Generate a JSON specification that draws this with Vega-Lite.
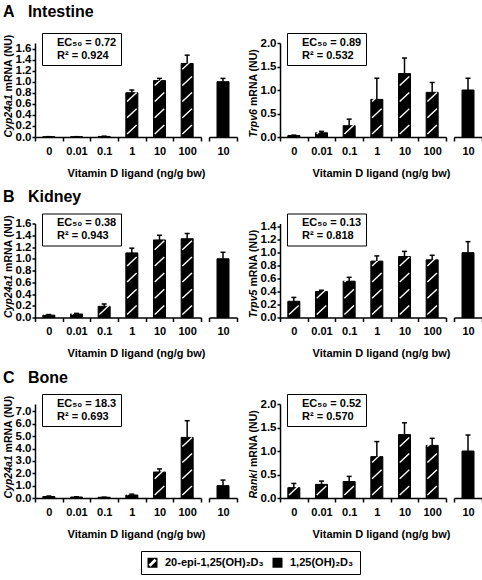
{
  "$schema": "https://vega.github.io/schema/vega-lite/v6.json",
  "background": "white",
  "padding": {"left": 2, "top": 3, "right": 0, "bottom": 0},
  "autosize": {"type": "pad"},
  "datasets": {
    "bars": [
      {"tissue": "Intestine", "gene": "Cyp24a1", "treat": "20-epi-1,25(OH)₂D₃", "dose": "0", "mean": 0.004, "hi": 0.006},
      {"tissue": "Intestine", "gene": "Cyp24a1", "treat": "20-epi-1,25(OH)₂D₃", "dose": "0.01", "mean": 0.004, "hi": 0.006},
      {"tissue": "Intestine", "gene": "Cyp24a1", "treat": "20-epi-1,25(OH)₂D₃", "dose": "0.1", "mean": 0.01, "hi": 0.015},
      {"tissue": "Intestine", "gene": "Cyp24a1", "treat": "20-epi-1,25(OH)₂D₃", "dose": "1", "mean": 0.8, "hi": 0.85},
      {"tissue": "Intestine", "gene": "Cyp24a1", "treat": "20-epi-1,25(OH)₂D₃", "dose": "10", "mean": 1.02, "hi": 1.06},
      {"tissue": "Intestine", "gene": "Cyp24a1", "treat": "20-epi-1,25(OH)₂D₃", "dose": "100", "mean": 1.33, "hi": 1.48},
      {"tissue": "Intestine", "gene": "Cyp24a1", "treat": "1,25(OH)₂D₃", "dose": "10", "mean": 1.0, "hi": 1.06},
      {"tissue": "Intestine", "gene": "Trpv6", "treat": "20-epi-1,25(OH)₂D₃", "dose": "0", "mean": 0.03, "hi": 0.04},
      {"tissue": "Intestine", "gene": "Trpv6", "treat": "20-epi-1,25(OH)₂D₃", "dose": "0.01", "mean": 0.09, "hi": 0.12},
      {"tissue": "Intestine", "gene": "Trpv6", "treat": "20-epi-1,25(OH)₂D₃", "dose": "0.1", "mean": 0.24, "hi": 0.38},
      {"tissue": "Intestine", "gene": "Trpv6", "treat": "20-epi-1,25(OH)₂D₃", "dose": "1", "mean": 0.8, "hi": 1.25},
      {"tissue": "Intestine", "gene": "Trpv6", "treat": "20-epi-1,25(OH)₂D₃", "dose": "10", "mean": 1.35, "hi": 1.68},
      {"tissue": "Intestine", "gene": "Trpv6", "treat": "20-epi-1,25(OH)₂D₃", "dose": "100", "mean": 0.95, "hi": 1.16},
      {"tissue": "Intestine", "gene": "Trpv6", "treat": "1,25(OH)₂D₃", "dose": "10", "mean": 1.0, "hi": 1.25},
      {"tissue": "Kidney", "gene": "Cyp24a1", "treat": "20-epi-1,25(OH)₂D₃", "dose": "0", "mean": 0.04, "hi": 0.05},
      {"tissue": "Kidney", "gene": "Cyp24a1", "treat": "20-epi-1,25(OH)₂D₃", "dose": "0.01", "mean": 0.06, "hi": 0.07},
      {"tissue": "Kidney", "gene": "Cyp24a1", "treat": "20-epi-1,25(OH)₂D₃", "dose": "0.1", "mean": 0.19, "hi": 0.23},
      {"tissue": "Kidney", "gene": "Cyp24a1", "treat": "20-epi-1,25(OH)₂D₃", "dose": "1", "mean": 1.1, "hi": 1.18},
      {"tissue": "Kidney", "gene": "Cyp24a1", "treat": "20-epi-1,25(OH)₂D₃", "dose": "10", "mean": 1.32, "hi": 1.4},
      {"tissue": "Kidney", "gene": "Cyp24a1", "treat": "20-epi-1,25(OH)₂D₃", "dose": "100", "mean": 1.34, "hi": 1.43},
      {"tissue": "Kidney", "gene": "Cyp24a1", "treat": "1,25(OH)₂D₃", "dose": "10", "mean": 1.0, "hi": 1.11},
      {"tissue": "Kidney", "gene": "Trpv5", "treat": "20-epi-1,25(OH)₂D₃", "dose": "0", "mean": 0.25, "hi": 0.31},
      {"tissue": "Kidney", "gene": "Trpv5", "treat": "20-epi-1,25(OH)₂D₃", "dose": "0.01", "mean": 0.4, "hi": 0.42},
      {"tissue": "Kidney", "gene": "Trpv5", "treat": "20-epi-1,25(OH)₂D₃", "dose": "0.1", "mean": 0.56, "hi": 0.62},
      {"tissue": "Kidney", "gene": "Trpv5", "treat": "20-epi-1,25(OH)₂D₃", "dose": "1", "mean": 0.87, "hi": 0.95},
      {"tissue": "Kidney", "gene": "Trpv5", "treat": "20-epi-1,25(OH)₂D₃", "dose": "10", "mean": 0.94, "hi": 1.02},
      {"tissue": "Kidney", "gene": "Trpv5", "treat": "20-epi-1,25(OH)₂D₃", "dose": "100", "mean": 0.89, "hi": 0.96},
      {"tissue": "Kidney", "gene": "Trpv5", "treat": "1,25(OH)₂D₃", "dose": "10", "mean": 1.0, "hi": 1.17},
      {"tissue": "Bone", "gene": "Cyp24a1", "treat": "20-epi-1,25(OH)₂D₃", "dose": "0", "mean": 0.12, "hi": 0.16},
      {"tissue": "Bone", "gene": "Cyp24a1", "treat": "20-epi-1,25(OH)₂D₃", "dose": "0.01", "mean": 0.08, "hi": 0.1},
      {"tissue": "Bone", "gene": "Cyp24a1", "treat": "20-epi-1,25(OH)₂D₃", "dose": "0.1", "mean": 0.06, "hi": 0.07},
      {"tissue": "Bone", "gene": "Cyp24a1", "treat": "20-epi-1,25(OH)₂D₃", "dose": "1", "mean": 0.24, "hi": 0.31},
      {"tissue": "Bone", "gene": "Cyp24a1", "treat": "20-epi-1,25(OH)₂D₃", "dose": "10", "mean": 2.1, "hi": 2.35},
      {"tissue": "Bone", "gene": "Cyp24a1", "treat": "20-epi-1,25(OH)₂D₃", "dose": "100", "mean": 4.9, "hi": 6.25},
      {"tissue": "Bone", "gene": "Cyp24a1", "treat": "1,25(OH)₂D₃", "dose": "10", "mean": 1.0, "hi": 1.45},
      {"tissue": "Bone", "gene": "Rankl", "treat": "20-epi-1,25(OH)₂D₃", "dose": "0", "mean": 0.22, "hi": 0.31},
      {"tissue": "Bone", "gene": "Rankl", "treat": "20-epi-1,25(OH)₂D₃", "dose": "0.01", "mean": 0.29, "hi": 0.36},
      {"tissue": "Bone", "gene": "Rankl", "treat": "20-epi-1,25(OH)₂D₃", "dose": "0.1", "mean": 0.35, "hi": 0.46},
      {"tissue": "Bone", "gene": "Rankl", "treat": "20-epi-1,25(OH)₂D₃", "dose": "1", "mean": 0.88, "hi": 1.2},
      {"tissue": "Bone", "gene": "Rankl", "treat": "20-epi-1,25(OH)₂D₃", "dose": "10", "mean": 1.35, "hi": 1.6},
      {"tissue": "Bone", "gene": "Rankl", "treat": "20-epi-1,25(OH)₂D₃", "dose": "100", "mean": 1.12, "hi": 1.27},
      {"tissue": "Bone", "gene": "Rankl", "treat": "1,25(OH)₂D₃", "dose": "10", "mean": 1.0, "hi": 1.34}
    ],
    "stats": [
      {"tissue": "Intestine", "gene": "Cyp24a1", "label": "EC₅₀ = 0.72"},
      {"tissue": "Intestine", "gene": "Cyp24a1", "label": "R² = 0.924"},
      {"tissue": "Intestine", "gene": "Trpv6", "label": "EC₅₀ = 0.89"},
      {"tissue": "Intestine", "gene": "Trpv6", "label": "R² = 0.532"},
      {"tissue": "Kidney", "gene": "Cyp24a1", "label": "EC₅₀ = 0.38"},
      {"tissue": "Kidney", "gene": "Cyp24a1", "label": "R² = 0.943"},
      {"tissue": "Kidney", "gene": "Trpv5", "label": "EC₅₀ = 0.13"},
      {"tissue": "Kidney", "gene": "Trpv5", "label": "R² = 0.818"},
      {"tissue": "Bone", "gene": "Cyp24a1", "label": "EC₅₀ = 18.3"},
      {"tissue": "Bone", "gene": "Cyp24a1", "label": "R² = 0.693"},
      {"tissue": "Bone", "gene": "Rankl", "label": "EC₅₀ = 0.52"},
      {"tissue": "Bone", "gene": "Rankl", "label": "R² = 0.570"}
    ]
  },
  "vconcat": [
    {
      "title": {"text": "A\u00a0\u00a0\u00a0Intestine", "anchor": "start", "fontSize": 16, "offset": 13},
      "hconcat": [
        {
          "hconcat": [
            {
              "width": 166, "height": 94,
              "data": {"name": "bars"},
              "transform": [{"filter": "datum.tissue === 'Intestine' && datum.gene === 'Cyp24a1' && datum.treat === '20-epi-1,25(OH)₂D₃'"}],
              "encoding": {"x": {"field": "dose", "type": "ordinal", "scale": {"type": "band", "domain": ["0", "0.01", "0.1", "1", "10", "100"], "paddingInner": 0, "paddingOuter": 0}, "axis": {"title": "Vitamin D ligand (ng/g bw)", "titleX": 101, "labelAngle": 0, "tickBand": "extent"}}},
              "layer": [
                {"mark": {"type": "bar", "width": 12, "fill": "black", "stroke": "black", "strokeWidth": 1},
                 "encoding": {"y": {"field": "mean", "type": "quantitative", "scale": {"domain": [0, 1.7], "nice": false}, "axis": {"orient": "left", "values": [0, 0.2, 0.4, 0.6, 0.8, 1.0, 1.2, 1.4, 1.6], "format": ".1f", "title": "mRNA (NU)", "titleAngle": 270, "titleAlign": "left", "titleBaseline": "middle", "titleX": -27, "titleY": 47.9}}}},
                {"mark": {"type": "point", "shape": "M-0.8,-0.5L0.8,-2M-0.8,-3.2L0.8,-4.7M-0.8,-5.9L0.8,-7.4M-0.8,-8.6L0.8,-10.1M-0.8,-11.3L0.8,-12.8M-0.8,-14L0.8,-15.5M-0.8,-16.7L0.8,-18.2", "filled": false, "color": "white", "stroke": "white", "strokeWidth": 1.4, "size": 144, "opacity": 1, "clip": true},
                 "encoding": {"y": {"datum": 0, "type": "quantitative", "axis": null}}},
                {"mark": {"type": "point", "filled": true, "color": "black", "opacity": 0, "size": 100},
                 "encoding": {"y": {"datum": 0, "type": "quantitative", "axis": null},
                   "shape": {"field": "treat", "type": "nominal", "scale": {"domain": ["20-epi-1,25(OH)₂D₃", "1,25(OH)₂D₃"], "range": ["M-1,-1L1,-1L1,1L-1,1ZM0.8,-0.4L0.4,-0.8L-0.8,0.4L-0.4,0.8Z", "square"]},
                     "legend": {"orient": "none", "legendX": 106, "legendY": 508, "direction": "horizontal", "title": null, "strokeColor": "black", "padding": 6, "symbolSize": 100, "symbolOpacity": 1, "symbolFillColor": "black", "symbolStrokeWidth": 0, "labelOffset": 7, "columnPadding": 8, "labelFontSize": 11,
                       "encode": {"legend": {"strokeWidth": {"value": 1.5}}}}}}},
                {"mark": {"type": "rule", "color": "black", "strokeWidth": 1.5},
                 "encoding": {"y": {"field": "mean", "type": "quantitative", "axis": {"orient": "left", "domain": false, "ticks": false, "labels": false, "title": "Cyp24a1", "titleFontStyle": "italic", "titleAngle": 270, "titleAlign": "left", "titleBaseline": "middle", "titleX": -27, "titleY": 94}}, "y2": {"field": "hi"}}},
                {"mark": {"type": "tick", "orient": "horizontal", "size": 5, "thickness": 1.5, "color": "black", "opacity": 1},
                 "encoding": {"y": {"field": "hi", "type": "quantitative", "axis": null}}},
                {"data": {"name": "stats"}, "transform": [{"filter": "datum.tissue === 'Intestine' && datum.gene === 'Cyp24a1'"}],
                 "mark": {"type": "point", "opacity": 0},
                 "encoding": {"stroke": {"field": "label", "type": "nominal", "legend": {"orient": "none", "legendX": 7, "legendY": -10, "title": null, "strokeColor": "black", "fillColor": "white", "padding": 4, "symbolSize": 0, "symbolOpacity": 0, "symbolStrokeWidth": 0, "labelOffset": 0, "rowPadding": 1, "labelFontSize": 11, "encode": {"legend": {"strokeWidth": {"value": 1.5}}}}}}}
              ],
              "resolve": {"axis": {"y": "independent"}}
            },
            {
              "width": 28, "height": 94,
              "data": {"name": "bars"},
              "transform": [{"filter": "datum.tissue === 'Intestine' && datum.gene === 'Cyp24a1' && datum.treat === '1,25(OH)₂D₃'"}],
              "encoding": {"x": {"field": "dose", "type": "ordinal", "scale": {"type": "band", "domain": ["10"], "paddingInner": 0, "paddingOuter": 0}, "axis": {"title": null, "labelAngle": 0, "tickBand": "extent"}}},
              "layer": [
                {"mark": {"type": "bar", "width": 12, "fill": "black", "stroke": "black", "strokeWidth": 1},
                 "encoding": {"y": {"field": "mean", "type": "quantitative", "scale": {"domain": [0, 1.7], "nice": false}, "axis": null}}},
                {"mark": {"type": "rule", "color": "black", "strokeWidth": 1.5}, "encoding": {"y": {"field": "mean", "type": "quantitative", "axis": null}, "y2": {"field": "hi"}}},
                {"mark": {"type": "tick", "orient": "horizontal", "size": 5, "thickness": 1.5, "color": "black", "opacity": 1}, "encoding": {"y": {"field": "hi", "type": "quantitative", "axis": null}}}
              ]
            }
          ],
          "spacing": 8, "bounds": "flush",
          "resolve": {"scale": {"stroke": "independent"}}
        },
        {
          "hconcat": [
            {
              "width": 166, "height": 94,
              "data": {"name": "bars"},
              "transform": [{"filter": "datum.tissue === 'Intestine' && datum.gene === 'Trpv6' && datum.treat === '20-epi-1,25(OH)₂D₃'"}],
              "encoding": {"x": {"field": "dose", "type": "ordinal", "scale": {"type": "band", "domain": ["0", "0.01", "0.1", "1", "10", "100"], "paddingInner": 0, "paddingOuter": 0}, "axis": {"title": "Vitamin D ligand (ng/g bw)", "titleX": 101, "labelAngle": 0, "tickBand": "extent"}}},
              "layer": [
                {"mark": {"type": "bar", "width": 12, "fill": "black", "stroke": "black", "strokeWidth": 1},
                 "encoding": {"y": {"field": "mean", "type": "quantitative", "scale": {"domain": [0, 2.0], "nice": false}, "axis": {"orient": "left", "values": [0, 0.5, 1.0, 1.5, 2.0], "format": ".1f", "title": "mRNA (NU)", "titleAngle": 270, "titleAlign": "left", "titleBaseline": "middle", "titleX": -27, "titleY": 62.5}}}},
                {"mark": {"type": "point", "shape": "M-0.8,-0.5L0.8,-2M-0.8,-3.2L0.8,-4.7M-0.8,-5.9L0.8,-7.4M-0.8,-8.6L0.8,-10.1M-0.8,-11.3L0.8,-12.8M-0.8,-14L0.8,-15.5M-0.8,-16.7L0.8,-18.2", "filled": false, "color": "white", "stroke": "white", "strokeWidth": 1.4, "size": 144, "opacity": 1, "clip": true},
                 "encoding": {"y": {"datum": 0, "type": "quantitative", "axis": null}}},
                {"mark": {"type": "rule", "color": "black", "strokeWidth": 1.5},
                 "encoding": {"y": {"field": "mean", "type": "quantitative", "axis": {"orient": "left", "domain": false, "ticks": false, "labels": false, "title": "Trpv6", "titleFontStyle": "italic", "titleAngle": 270, "titleAlign": "left", "titleBaseline": "middle", "titleX": -27, "titleY": 94}}, "y2": {"field": "hi"}}},
                {"mark": {"type": "tick", "orient": "horizontal", "size": 5, "thickness": 1.5, "color": "black", "opacity": 1},
                 "encoding": {"y": {"field": "hi", "type": "quantitative", "axis": null}}},
                {"data": {"name": "stats"}, "transform": [{"filter": "datum.tissue === 'Intestine' && datum.gene === 'Trpv6'"}],
                 "mark": {"type": "point", "opacity": 0},
                 "encoding": {"stroke": {"field": "label", "type": "nominal", "legend": {"orient": "none", "legendX": 7, "legendY": -10, "title": null, "strokeColor": "black", "fillColor": "white", "padding": 4, "symbolSize": 0, "symbolOpacity": 0, "symbolStrokeWidth": 0, "labelOffset": 0, "rowPadding": 1, "labelFontSize": 11, "encode": {"legend": {"strokeWidth": {"value": 1.5}}}}}}}
              ],
              "resolve": {"axis": {"y": "independent"}}
            },
            {
              "width": 28, "height": 94,
              "data": {"name": "bars"},
              "transform": [{"filter": "datum.tissue === 'Intestine' && datum.gene === 'Trpv6' && datum.treat === '1,25(OH)₂D₃'"}],
              "encoding": {"x": {"field": "dose", "type": "ordinal", "scale": {"type": "band", "domain": ["10"], "paddingInner": 0, "paddingOuter": 0}, "axis": {"title": null, "labelAngle": 0, "tickBand": "extent"}}},
              "layer": [
                {"mark": {"type": "bar", "width": 12, "fill": "black", "stroke": "black", "strokeWidth": 1},
                 "encoding": {"y": {"field": "mean", "type": "quantitative", "scale": {"domain": [0, 2.0], "nice": false}, "axis": null}}},
                {"mark": {"type": "rule", "color": "black", "strokeWidth": 1.5}, "encoding": {"y": {"field": "mean", "type": "quantitative", "axis": null}, "y2": {"field": "hi"}}},
                {"mark": {"type": "tick", "orient": "horizontal", "size": 5, "thickness": 1.5, "color": "black", "opacity": 1}, "encoding": {"y": {"field": "hi", "type": "quantitative", "axis": null}}}
              ]
            }
          ],
          "spacing": 8, "bounds": "flush",
          "resolve": {"scale": {"stroke": "independent"}}
        }
      ],
      "spacing": 9,
      "resolve": {"scale": {"stroke": "independent"}}
    },
    {
      "title": {"text": "B\u00a0\u00a0\u00a0Kidney", "anchor": "start", "fontSize": 16, "offset": 8},
      "hconcat": [
        {
          "hconcat": [
            {
              "width": 166, "height": 94,
              "data": {"name": "bars"},
              "transform": [{"filter": "datum.tissue === 'Kidney' && datum.gene === 'Cyp24a1' && datum.treat === '20-epi-1,25(OH)₂D₃'"}],
              "encoding": {"x": {"field": "dose", "type": "ordinal", "scale": {"type": "band", "domain": ["0", "0.01", "0.1", "1", "10", "100"], "paddingInner": 0, "paddingOuter": 0}, "axis": {"title": "Vitamin D ligand (ng/g bw)", "titleX": 101, "labelAngle": 0, "tickBand": "extent"}}},
              "layer": [
                {"mark": {"type": "bar", "width": 12, "fill": "black", "stroke": "black", "strokeWidth": 1},
                 "encoding": {"y": {"field": "mean", "type": "quantitative", "scale": {"domain": [0, 1.6], "nice": false}, "axis": {"orient": "left", "values": [0, 0.2, 0.4, 0.6, 0.8, 1.0, 1.2, 1.4, 1.6], "format": ".1f", "title": "mRNA (NU)", "titleAngle": 270, "titleAlign": "left", "titleBaseline": "middle", "titleX": -27, "titleY": 47.9}}}},
                {"mark": {"type": "point", "shape": "M-0.8,-0.5L0.8,-2M-0.8,-3.2L0.8,-4.7M-0.8,-5.9L0.8,-7.4M-0.8,-8.6L0.8,-10.1M-0.8,-11.3L0.8,-12.8M-0.8,-14L0.8,-15.5M-0.8,-16.7L0.8,-18.2", "filled": false, "color": "white", "stroke": "white", "strokeWidth": 1.4, "size": 144, "opacity": 1, "clip": true},
                 "encoding": {"y": {"datum": 0, "type": "quantitative", "axis": null}}},
                {"mark": {"type": "rule", "color": "black", "strokeWidth": 1.5},
                 "encoding": {"y": {"field": "mean", "type": "quantitative", "axis": {"orient": "left", "domain": false, "ticks": false, "labels": false, "title": "Cyp24a1", "titleFontStyle": "italic", "titleAngle": 270, "titleAlign": "left", "titleBaseline": "middle", "titleX": -27, "titleY": 94}}, "y2": {"field": "hi"}}},
                {"mark": {"type": "tick", "orient": "horizontal", "size": 5, "thickness": 1.5, "color": "black", "opacity": 1},
                 "encoding": {"y": {"field": "hi", "type": "quantitative", "axis": null}}},
                {"data": {"name": "stats"}, "transform": [{"filter": "datum.tissue === 'Kidney' && datum.gene === 'Cyp24a1'"}],
                 "mark": {"type": "point", "opacity": 0},
                 "encoding": {"stroke": {"field": "label", "type": "nominal", "legend": {"orient": "none", "legendX": 7, "legendY": -10, "title": null, "strokeColor": "black", "fillColor": "white", "padding": 4, "symbolSize": 0, "symbolOpacity": 0, "symbolStrokeWidth": 0, "labelOffset": 0, "rowPadding": 1, "labelFontSize": 11, "encode": {"legend": {"strokeWidth": {"value": 1.5}}}}}}}
              ],
              "resolve": {"axis": {"y": "independent"}}
            },
            {
              "width": 28, "height": 94,
              "data": {"name": "bars"},
              "transform": [{"filter": "datum.tissue === 'Kidney' && datum.gene === 'Cyp24a1' && datum.treat === '1,25(OH)₂D₃'"}],
              "encoding": {"x": {"field": "dose", "type": "ordinal", "scale": {"type": "band", "domain": ["10"], "paddingInner": 0, "paddingOuter": 0}, "axis": {"title": null, "labelAngle": 0, "tickBand": "extent"}}},
              "layer": [
                {"mark": {"type": "bar", "width": 12, "fill": "black", "stroke": "black", "strokeWidth": 1},
                 "encoding": {"y": {"field": "mean", "type": "quantitative", "scale": {"domain": [0, 1.6], "nice": false}, "axis": null}}},
                {"mark": {"type": "rule", "color": "black", "strokeWidth": 1.5}, "encoding": {"y": {"field": "mean", "type": "quantitative", "axis": null}, "y2": {"field": "hi"}}},
                {"mark": {"type": "tick", "orient": "horizontal", "size": 5, "thickness": 1.5, "color": "black", "opacity": 1}, "encoding": {"y": {"field": "hi", "type": "quantitative", "axis": null}}}
              ]
            }
          ],
          "spacing": 8, "bounds": "flush",
          "resolve": {"scale": {"stroke": "independent"}}
        },
        {
          "hconcat": [
            {
              "width": 166, "height": 94,
              "data": {"name": "bars"},
              "transform": [{"filter": "datum.tissue === 'Kidney' && datum.gene === 'Trpv5' && datum.treat === '20-epi-1,25(OH)₂D₃'"}],
              "encoding": {"x": {"field": "dose", "type": "ordinal", "scale": {"type": "band", "domain": ["0", "0.01", "0.1", "1", "10", "100"], "paddingInner": 0, "paddingOuter": 0}, "axis": {"title": "Vitamin D ligand (ng/g bw)", "titleX": 101, "labelAngle": 0, "tickBand": "extent"}}},
              "layer": [
                {"mark": {"type": "bar", "width": 12, "fill": "black", "stroke": "black", "strokeWidth": 1},
                 "encoding": {"y": {"field": "mean", "type": "quantitative", "scale": {"domain": [0, 1.45], "nice": false}, "axis": {"orient": "left", "values": [0, 0.2, 0.4, 0.6, 0.8, 1.0, 1.2, 1.4], "format": ".1f", "title": "mRNA (NU)", "titleAngle": 270, "titleAlign": "left", "titleBaseline": "middle", "titleX": -27, "titleY": 62.5}}}},
                {"mark": {"type": "point", "shape": "M-0.8,-0.5L0.8,-2M-0.8,-3.2L0.8,-4.7M-0.8,-5.9L0.8,-7.4M-0.8,-8.6L0.8,-10.1M-0.8,-11.3L0.8,-12.8M-0.8,-14L0.8,-15.5M-0.8,-16.7L0.8,-18.2", "filled": false, "color": "white", "stroke": "white", "strokeWidth": 1.4, "size": 144, "opacity": 1, "clip": true},
                 "encoding": {"y": {"datum": 0, "type": "quantitative", "axis": null}}},
                {"mark": {"type": "rule", "color": "black", "strokeWidth": 1.5},
                 "encoding": {"y": {"field": "mean", "type": "quantitative", "axis": {"orient": "left", "domain": false, "ticks": false, "labels": false, "title": "Trpv5", "titleFontStyle": "italic", "titleAngle": 270, "titleAlign": "left", "titleBaseline": "middle", "titleX": -27, "titleY": 94}}, "y2": {"field": "hi"}}},
                {"mark": {"type": "tick", "orient": "horizontal", "size": 5, "thickness": 1.5, "color": "black", "opacity": 1},
                 "encoding": {"y": {"field": "hi", "type": "quantitative", "axis": null}}},
                {"data": {"name": "stats"}, "transform": [{"filter": "datum.tissue === 'Kidney' && datum.gene === 'Trpv5'"}],
                 "mark": {"type": "point", "opacity": 0},
                 "encoding": {"stroke": {"field": "label", "type": "nominal", "legend": {"orient": "none", "legendX": 7, "legendY": -10, "title": null, "strokeColor": "black", "fillColor": "white", "padding": 4, "symbolSize": 0, "symbolOpacity": 0, "symbolStrokeWidth": 0, "labelOffset": 0, "rowPadding": 1, "labelFontSize": 11, "encode": {"legend": {"strokeWidth": {"value": 1.5}}}}}}}
              ],
              "resolve": {"axis": {"y": "independent"}}
            },
            {
              "width": 28, "height": 94,
              "data": {"name": "bars"},
              "transform": [{"filter": "datum.tissue === 'Kidney' && datum.gene === 'Trpv5' && datum.treat === '1,25(OH)₂D₃'"}],
              "encoding": {"x": {"field": "dose", "type": "ordinal", "scale": {"type": "band", "domain": ["10"], "paddingInner": 0, "paddingOuter": 0}, "axis": {"title": null, "labelAngle": 0, "tickBand": "extent"}}},
              "layer": [
                {"mark": {"type": "bar", "width": 12, "fill": "black", "stroke": "black", "strokeWidth": 1},
                 "encoding": {"y": {"field": "mean", "type": "quantitative", "scale": {"domain": [0, 1.45], "nice": false}, "axis": null}}},
                {"mark": {"type": "rule", "color": "black", "strokeWidth": 1.5}, "encoding": {"y": {"field": "mean", "type": "quantitative", "axis": null}, "y2": {"field": "hi"}}},
                {"mark": {"type": "tick", "orient": "horizontal", "size": 5, "thickness": 1.5, "color": "black", "opacity": 1}, "encoding": {"y": {"field": "hi", "type": "quantitative", "axis": null}}}
              ]
            }
          ],
          "spacing": 8, "bounds": "flush",
          "resolve": {"scale": {"stroke": "independent"}}
        }
      ],
      "spacing": 9,
      "resolve": {"scale": {"stroke": "independent"}}
    },
    {
      "title": {"text": "C\u00a0\u00a0\u00a0Bone", "anchor": "start", "fontSize": 16, "offset": 8},
      "hconcat": [
        {
          "hconcat": [
            {
              "width": 166, "height": 94,
              "data": {"name": "bars"},
              "transform": [{"filter": "datum.tissue === 'Bone' && datum.gene === 'Cyp24a1' && datum.treat === '20-epi-1,25(OH)₂D₃'"}],
              "encoding": {"x": {"field": "dose", "type": "ordinal", "scale": {"type": "band", "domain": ["0", "0.01", "0.1", "1", "10", "100"], "paddingInner": 0, "paddingOuter": 0}, "axis": {"title": "Vitamin D ligand (ng/g bw)", "titleX": 101, "labelAngle": 0, "tickBand": "extent"}}},
              "layer": [
                {"mark": {"type": "bar", "width": 12, "fill": "black", "stroke": "black", "strokeWidth": 1},
                 "encoding": {"y": {"field": "mean", "type": "quantitative", "scale": {"domain": [0, 7.6], "nice": false}, "axis": {"orient": "left", "values": [0, 1, 2, 3, 4, 5, 6, 7], "format": ".1f", "title": "mRNA (NU)", "titleAngle": 270, "titleAlign": "left", "titleBaseline": "middle", "titleX": -27, "titleY": 47.9}}}},
                {"mark": {"type": "point", "shape": "M-0.8,-0.5L0.8,-2M-0.8,-3.2L0.8,-4.7M-0.8,-5.9L0.8,-7.4M-0.8,-8.6L0.8,-10.1M-0.8,-11.3L0.8,-12.8M-0.8,-14L0.8,-15.5M-0.8,-16.7L0.8,-18.2", "filled": false, "color": "white", "stroke": "white", "strokeWidth": 1.4, "size": 144, "opacity": 1, "clip": true},
                 "encoding": {"y": {"datum": 0, "type": "quantitative", "axis": null}}},
                {"mark": {"type": "rule", "color": "black", "strokeWidth": 1.5},
                 "encoding": {"y": {"field": "mean", "type": "quantitative", "axis": {"orient": "left", "domain": false, "ticks": false, "labels": false, "title": "Cyp24a1", "titleFontStyle": "italic", "titleAngle": 270, "titleAlign": "left", "titleBaseline": "middle", "titleX": -27, "titleY": 94}}, "y2": {"field": "hi"}}},
                {"mark": {"type": "tick", "orient": "horizontal", "size": 5, "thickness": 1.5, "color": "black", "opacity": 1},
                 "encoding": {"y": {"field": "hi", "type": "quantitative", "axis": null}}},
                {"data": {"name": "stats"}, "transform": [{"filter": "datum.tissue === 'Bone' && datum.gene === 'Cyp24a1'"}],
                 "mark": {"type": "point", "opacity": 0},
                 "encoding": {"stroke": {"field": "label", "type": "nominal", "legend": {"orient": "none", "legendX": 7, "legendY": -10, "title": null, "strokeColor": "black", "fillColor": "white", "padding": 4, "symbolSize": 0, "symbolOpacity": 0, "symbolStrokeWidth": 0, "labelOffset": 0, "rowPadding": 1, "labelFontSize": 11, "encode": {"legend": {"strokeWidth": {"value": 1.5}}}}}}}
              ],
              "resolve": {"axis": {"y": "independent"}}
            },
            {
              "width": 28, "height": 94,
              "data": {"name": "bars"},
              "transform": [{"filter": "datum.tissue === 'Bone' && datum.gene === 'Cyp24a1' && datum.treat === '1,25(OH)₂D₃'"}],
              "encoding": {"x": {"field": "dose", "type": "ordinal", "scale": {"type": "band", "domain": ["10"], "paddingInner": 0, "paddingOuter": 0}, "axis": {"title": null, "labelAngle": 0, "tickBand": "extent"}}},
              "layer": [
                {"mark": {"type": "bar", "width": 12, "fill": "black", "stroke": "black", "strokeWidth": 1},
                 "encoding": {"y": {"field": "mean", "type": "quantitative", "scale": {"domain": [0, 7.6], "nice": false}, "axis": null}}},
                {"mark": {"type": "rule", "color": "black", "strokeWidth": 1.5}, "encoding": {"y": {"field": "mean", "type": "quantitative", "axis": null}, "y2": {"field": "hi"}}},
                {"mark": {"type": "tick", "orient": "horizontal", "size": 5, "thickness": 1.5, "color": "black", "opacity": 1}, "encoding": {"y": {"field": "hi", "type": "quantitative", "axis": null}}}
              ]
            }
          ],
          "spacing": 8, "bounds": "flush",
          "resolve": {"scale": {"stroke": "independent"}}
        },
        {
          "hconcat": [
            {
              "width": 166, "height": 94,
              "data": {"name": "bars"},
              "transform": [{"filter": "datum.tissue === 'Bone' && datum.gene === 'Rankl' && datum.treat === '20-epi-1,25(OH)₂D₃'"}],
              "encoding": {"x": {"field": "dose", "type": "ordinal", "scale": {"type": "band", "domain": ["0", "0.01", "0.1", "1", "10", "100"], "paddingInner": 0, "paddingOuter": 0}, "axis": {"title": "Vitamin D ligand (ng/g bw)", "titleX": 101, "labelAngle": 0, "tickBand": "extent"}}},
              "layer": [
                {"mark": {"type": "bar", "width": 12, "fill": "black", "stroke": "black", "strokeWidth": 1},
                 "encoding": {"y": {"field": "mean", "type": "quantitative", "scale": {"domain": [0, 2.0], "nice": false}, "axis": {"orient": "left", "values": [0, 0.5, 1.0, 1.5, 2.0], "format": ".1f", "title": "mRNA (NU)", "titleAngle": 270, "titleAlign": "left", "titleBaseline": "middle", "titleX": -27, "titleY": 62.5}}}},
                {"mark": {"type": "point", "shape": "M-0.8,-0.5L0.8,-2M-0.8,-3.2L0.8,-4.7M-0.8,-5.9L0.8,-7.4M-0.8,-8.6L0.8,-10.1M-0.8,-11.3L0.8,-12.8M-0.8,-14L0.8,-15.5M-0.8,-16.7L0.8,-18.2", "filled": false, "color": "white", "stroke": "white", "strokeWidth": 1.4, "size": 144, "opacity": 1, "clip": true},
                 "encoding": {"y": {"datum": 0, "type": "quantitative", "axis": null}}},
                {"mark": {"type": "rule", "color": "black", "strokeWidth": 1.5},
                 "encoding": {"y": {"field": "mean", "type": "quantitative", "axis": {"orient": "left", "domain": false, "ticks": false, "labels": false, "title": "Rankl", "titleFontStyle": "italic", "titleAngle": 270, "titleAlign": "left", "titleBaseline": "middle", "titleX": -27, "titleY": 94}}, "y2": {"field": "hi"}}},
                {"mark": {"type": "tick", "orient": "horizontal", "size": 5, "thickness": 1.5, "color": "black", "opacity": 1},
                 "encoding": {"y": {"field": "hi", "type": "quantitative", "axis": null}}},
                {"data": {"name": "stats"}, "transform": [{"filter": "datum.tissue === 'Bone' && datum.gene === 'Rankl'"}],
                 "mark": {"type": "point", "opacity": 0},
                 "encoding": {"stroke": {"field": "label", "type": "nominal", "legend": {"orient": "none", "legendX": 7, "legendY": -10, "title": null, "strokeColor": "black", "fillColor": "white", "padding": 4, "symbolSize": 0, "symbolOpacity": 0, "symbolStrokeWidth": 0, "labelOffset": 0, "rowPadding": 1, "labelFontSize": 11, "encode": {"legend": {"strokeWidth": {"value": 1.5}}}}}}}
              ],
              "resolve": {"axis": {"y": "independent"}}
            },
            {
              "width": 28, "height": 94,
              "data": {"name": "bars"},
              "transform": [{"filter": "datum.tissue === 'Bone' && datum.gene === 'Rankl' && datum.treat === '1,25(OH)₂D₃'"}],
              "encoding": {"x": {"field": "dose", "type": "ordinal", "scale": {"type": "band", "domain": ["10"], "paddingInner": 0, "paddingOuter": 0}, "axis": {"title": null, "labelAngle": 0, "tickBand": "extent"}}},
              "layer": [
                {"mark": {"type": "bar", "width": 12, "fill": "black", "stroke": "black", "strokeWidth": 1},
                 "encoding": {"y": {"field": "mean", "type": "quantitative", "scale": {"domain": [0, 2.0], "nice": false}, "axis": null}}},
                {"mark": {"type": "rule", "color": "black", "strokeWidth": 1.5}, "encoding": {"y": {"field": "mean", "type": "quantitative", "axis": null}, "y2": {"field": "hi"}}},
                {"mark": {"type": "tick", "orient": "horizontal", "size": 5, "thickness": 1.5, "color": "black", "opacity": 1}, "encoding": {"y": {"field": "hi", "type": "quantitative", "axis": null}}}
              ]
            }
          ],
          "spacing": 8, "bounds": "flush",
          "resolve": {"scale": {"stroke": "independent"}}
        }
      ],
      "spacing": 9,
      "resolve": {"scale": {"stroke": "independent"}}
    }
  ],
  "spacing": 10.5,
  "resolve": {"scale": {"stroke": "independent"}},
  "config": {
    "font": "Liberation Sans",
    "view": {"stroke": null},
    "axis": {"grid": false, "domainColor": "black", "domainWidth": 1.5, "tickColor": "black", "tickWidth": 1.5, "labelColor": "black", "titleColor": "black", "labelFont": "Liberation Sans", "titleFont": "Liberation Sans", "labelFontWeight": "bold", "titleFontWeight": "bold"},
    "axisX": {"labelFontSize": 11, "titleFontSize": 11, "tickSize": 4, "labelPadding": 4, "titlePadding": 11},
    "axisY": {"labelFontSize": 11.5, "titleFontSize": 10.5, "tickSize": 3, "labelPadding": 1, "labelOverlap": false},
    "legend": {"labelFont": "Liberation Sans", "labelFontWeight": "bold", "labelColor": "black"},
    "title": {"font": "Liberation Sans", "fontWeight": "bold", "color": "black"}
  }
}
